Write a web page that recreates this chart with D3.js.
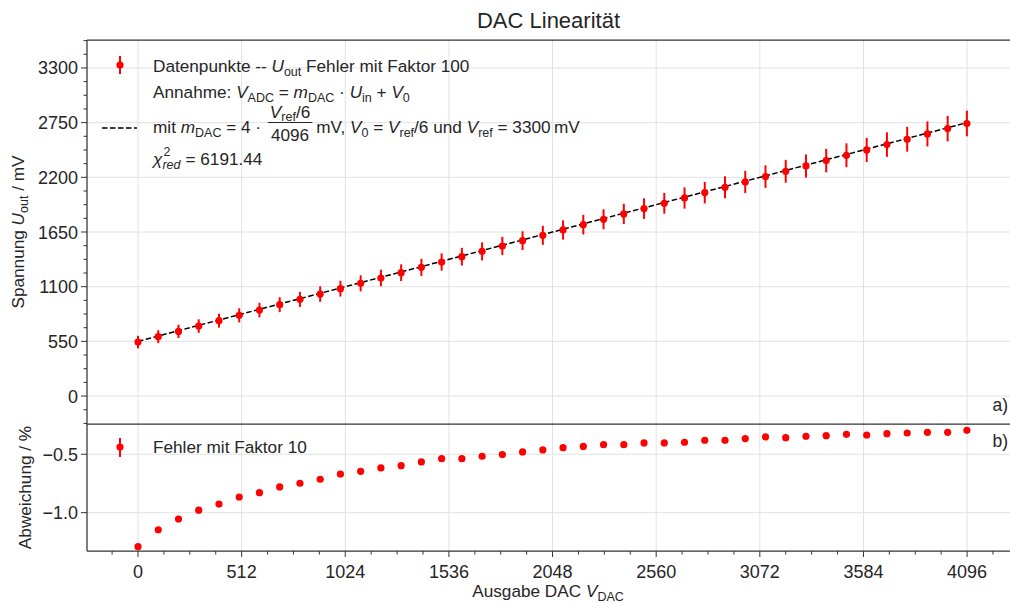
<!doctype html>
<html lang="de">
<head>
<meta charset="utf-8">
<title>DAC Linearität</title>
<style>
    body { margin: 0; background: #fff; }
    svg { display: block; }
    text { fill: #262626; white-space: pre; }
    .grid line { stroke: #e2e2e2; stroke-width: 1; }
    .spine { stroke: #333; stroke-width: 1.25; fill: none; }
    .tick { stroke: #333; stroke-width: 1; }
</style>
</head>
<body>
<svg id="chart" width="1010" height="603"></svg>

<script src="https://d3js.org/d3.v7.min.js"></script>
<script>

    // DAC input codes
    let dacCodes = [0, 100, 200, 300, 400, 500, 600, 700, 800, 900, 1000, 1100, 1200, 1300,
        1400, 1500, 1600, 1700, 1800, 1900, 2000, 2100, 2200, 2300, 2400, 2500, 2600, 2700,
        2800, 2900, 3000, 3100, 3200, 3300, 3400, 3500, 3600, 3700, 3800, 3900, 4000, 4095];

    // measured output voltage in mV
    let uOut = [542.9, 596.8, 650.5, 704.2, 757.8, 811.5, 865.0, 918.8, 972.4, 1026.0, 1079.8,
        1133.5, 1187.2, 1240.8, 1294.6, 1348.4, 1401.8, 1455.5, 1509.2, 1563.0, 1616.7, 1670.5,
        1724.1, 1777.9, 1831.4, 1885.1, 1938.6, 1992.3, 2046.1, 2099.6, 2153.4, 2207.2, 2260.6,
        2314.4, 2368.1, 2421.9, 2475.3, 2529.1, 2582.8, 2636.5, 2690.0, 2741.4];

    // uncertainty of U_out in mV (drawn with factor 100)
    let uErr = [0.63, 0.65, 0.67, 0.68, 0.70, 0.71, 0.73, 0.75, 0.76, 0.78, 0.79, 0.81, 0.83,
        0.84, 0.86, 0.87, 0.89, 0.91, 0.92, 0.94, 0.96, 0.97, 0.99, 1.00, 1.02, 1.04, 1.05,
        1.07, 1.08, 1.10, 1.12, 1.13, 1.15, 1.16, 1.18, 1.20, 1.21, 1.23, 1.25, 1.26, 1.28, 1.29];

    // deviation from the model in %
    let deviation = [-1.291, -1.146, -1.054, -0.979, -0.926, -0.866, -0.829, -0.780, -0.748,
        -0.714, -0.669, -0.646, -0.617, -0.598, -0.566, -0.538, -0.538, -0.517, -0.503, -0.480,
        -0.463, -0.444, -0.433, -0.418, -0.418, -0.403, -0.403, -0.397, -0.380, -0.380, -0.366,
        -0.352, -0.358, -0.346, -0.341, -0.329, -0.335, -0.324, -0.318, -0.312, -0.312, -0.295];

    let xTicks = [0, 512, 1024, 1536, 2048, 2560, 3072, 3584, 4096];
    let yTicksTop = [0, 550, 1100, 1650, 2200, 2750, 3300];
    let yTicksBottom = [-1.0, -0.5];

    // model: V = m_DAC * x + V0
    let vRef = 3300;
    let v0 = vRef / 6;
    let mDac = 4 * (vRef / 6) / 4096;

    let txtFont = "'Liberation Sans', Arial, sans-serif";
    let mathFont = "'Liberation Sans', Arial, sans-serif";
    let red = "#ff0000";

    let svg = d3.select("#chart");

    let left = 87, right = 1010;
    let topA = 40, midA = 424, botB = 551;

    let x = d3.scaleLinear().domain([-252, 4308]).range([left, right]);
    let yTop = d3.scaleLinear().domain([-281, 3581]).range([midA, topA]);
    let yBot = d3.scaleLinear().domain([-1.328, -0.241]).range([botB, midA]);

    // grids
    let grid = svg.append("g").attr("class", "grid");
    grid.selectAll("line.vx").data(xTicks).enter().append("line")
        .attr("x1", d => x(d)).attr("x2", d => x(d))
        .attr("y1", topA).attr("y2", botB);
    grid.selectAll("line.ht").data(yTicksTop).enter().append("line")
        .attr("x1", left).attr("x2", right)
        .attr("y1", d => yTop(d)).attr("y2", d => yTop(d));
    grid.selectAll("line.hb").data(yTicksBottom).enter().append("line")
        .attr("x1", left).attr("x2", right)
        .attr("y1", d => yBot(d)).attr("y2", d => yBot(d));

    // ticks
    function minorTicks(scale, step, majors) {
        let dom = scale.domain();
        let lo = Math.min(dom[0], dom[1]), hi = Math.max(dom[0], dom[1]);
        let out = [];
        for (let v = Math.ceil(lo / step) * step; v <= hi; v += step) {
            if (!majors.some(m => Math.abs(m - v) < 1e-6)) out.push(v);
        }
        return out;
    }

    let ticks = svg.append("g");
    ticks.selectAll("line.xmaj").data(xTicks).enter().append("line").attr("class", "tick")
        .attr("x1", d => x(d)).attr("x2", d => x(d)).attr("y1", botB).attr("y2", botB + 6);
    ticks.selectAll("line.xmin").data(minorTicks(x, 128, xTicks)).enter().append("line").attr("class", "tick")
        .attr("x1", d => x(d)).attr("x2", d => x(d)).attr("y1", botB).attr("y2", botB + 3.5);
    ticks.selectAll("line.ytmaj").data(yTicksTop).enter().append("line").attr("class", "tick")
        .attr("x1", left - 6).attr("x2", left).attr("y1", d => yTop(d)).attr("y2", d => yTop(d));
    ticks.selectAll("line.ytmin").data(minorTicks(yTop, 137.5, yTicksTop)).enter().append("line").attr("class", "tick")
        .attr("x1", left - 3.5).attr("x2", left).attr("y1", d => yTop(d)).attr("y2", d => yTop(d));
    ticks.selectAll("line.ybmaj").data(yTicksBottom).enter().append("line").attr("class", "tick")
        .attr("x1", left - 6).attr("x2", left).attr("y1", d => yBot(d)).attr("y2", d => yBot(d));

    // tick labels
    let lbl = svg.append("g").style("font-family", txtFont).style("font-size", "18px");
    lbl.selectAll("text.x").data(xTicks).enter().append("text")
        .attr("x", d => x(d)).attr("y", botB + 27).attr("text-anchor", "middle")
        .text(d => d);
    lbl.selectAll("text.yt").data(yTicksTop).enter().append("text")
        .attr("x", left - 9).attr("y", d => yTop(d) + 6.5).attr("text-anchor", "end")
        .text(d => d);
    lbl.selectAll("text.yb").data(yTicksBottom).enter().append("text")
        .attr("x", left - 9).attr("y", d => yBot(d) + 6.5).attr("text-anchor", "end")
        .text(d => d3.format(".1f")(d).replace("-", "\u2212"));

    // fit line
    svg.append("line")
        .attr("x1", x(0)).attr("y1", yTop(v0))
        .attr("x2", x(4095)).attr("y2", yTop(v0 + mDac * 4095))
        .attr("stroke", "#000").attr("stroke-width", 1.5).attr("stroke-dasharray", "5.5,2.5");

    // data with error bars (factor 100)
    let pts = dacCodes.map((c, i) => ({c: c, u: uOut[i], e: uErr[i], d: deviation[i]}));
    svg.append("g").selectAll("line").data(pts).enter().append("line")
        .attr("x1", d => x(d.c)).attr("x2", d => x(d.c))
        .attr("y1", d => yTop(d.u - 100 * d.e)).attr("y2", d => yTop(d.u + 100 * d.e))
        .attr("stroke", red).attr("stroke-width", 2);
    svg.append("g").selectAll("circle").data(pts).enter().append("circle")
        .attr("cx", d => x(d.c)).attr("cy", d => yTop(d.u)).attr("r", 3.6).attr("fill", red);

    svg.append("g").selectAll("circle").data(pts).enter().append("circle")
        .attr("cx", d => x(d.c)).attr("cy", d => yBot(d.d)).attr("r", 3.6).attr("fill", red);

    // spines
    svg.append("line").attr("class", "spine").attr("x1", left).attr("x2", right).attr("y1", topA).attr("y2", topA);
    svg.append("line").attr("class", "spine").attr("x1", left).attr("x2", right).attr("y1", midA).attr("y2", midA);
    svg.append("line").attr("class", "spine").attr("x1", left).attr("x2", right).attr("y1", botB).attr("y2", botB);
    svg.append("line").attr("class", "spine").attr("x1", left).attr("x2", left).attr("y1", topA).attr("y2", botB);

    // text with math pieces
    let fs = 17.2;
    function mathText(g, x0, y0, runs) {
        let t = g.append("text").attr("x", x0).attr("y", y0).style("font-size", fs + "px")
            .style("font-family", txtFont);
        let shift = 0;
        runs.forEach(r => {
            let s = r.s || 0;
            let ts = t.append("tspan").text(r.t).attr("dy", s - shift);
            shift = s;
            if (r.m) ts.style("font-family", mathFont);
            if (r.i) ts.style("font-style", "italic");
            if (r.z) ts.style("font-size", r.z + "px");
        });
        if (shift) t.append("tspan").text("").attr("dy", -shift);
        return t;
    }
    function textWidth(t) { return t.node().getComputedTextLength(); }

    let sub = {m: true, z: 12.5, s: 4};
    let leg = svg.append("g");
    let tx = 153;

    // legend symbols
    leg.append("line").attr("x1", 120).attr("x2", 120).attr("y1", 56).attr("y2", 74)
        .attr("stroke", red).attr("stroke-width", 2);
    leg.append("circle").attr("cx", 120).attr("cy", 65).attr("r", 3.6).attr("fill", red);
    leg.append("line").attr("x1", 102).attr("x2", 137).attr("y1", 128).attr("y2", 128)
        .attr("stroke", "#000").attr("stroke-width", 1.5).attr("stroke-dasharray", "5.5,2.5");

    mathText(leg, tx, 72, [
        {t: "Datenpunkte -- "}, {t: "U", m: true, i: true}, Object.assign({t: "out"}, sub),
        {t: " Fehler mit Faktor 100"}]);
    mathText(leg, tx, 98, [
        {t: "Annahme: "}, {t: "V", m: true, i: true}, Object.assign({t: "ADC"}, sub),
        {t: " = ", m: true}, {t: "m", m: true, i: true}, Object.assign({t: "DAC"}, sub),
        {t: " \u00b7 ", m: true}, {t: "U", m: true, i: true}, Object.assign({t: "in"}, sub),
        {t: " + ", m: true}, {t: "V", m: true, i: true}, Object.assign({t: "0"}, sub)]);

    let l3a = mathText(leg, tx, 133, [
        {t: "mit "}, {t: "m", m: true, i: true}, Object.assign({t: "DAC"}, sub),
        {t: " = 4 \u00b7 ", m: true}]);
    let fx = tx + textWidth(l3a) + 2;
    let num = mathText(leg, 0, 117.5, [
        {t: "V", m: true, i: true}, Object.assign({t: "ref"}, {m: true, z: 12.5, s: 3}), {t: "/6", m: true}]);
    let den = mathText(leg, 0, 141, [{t: "4096", m: true}]);
    let fw = Math.max(textWidth(num), textWidth(den)) + 4;
    num.attr("x", fx + (fw - textWidth(num)) / 2);
    den.attr("x", fx + (fw - textWidth(den)) / 2);
    leg.append("line").attr("x1", fx).attr("x2", fx + fw).attr("y1", 122.5).attr("y2", 122.5)
        .attr("stroke", "#262626").attr("stroke-width", 1);
    mathText(leg, fx + fw + 4, 133, [
        {t: "mV, ", m: true}, {t: "V", m: true, i: true}, Object.assign({t: "0"}, sub),
        {t: " = ", m: true}, {t: "V", m: true, i: true}, Object.assign({t: "ref"}, sub),
        {t: "/6", m: true}, {t: " und "}, {t: "V", m: true, i: true}, Object.assign({t: "ref"}, sub),
        {t: " = 3300\u2009mV", m: true}]);

    let chi = mathText(leg, tx, 165, [{t: "\u03c7", m: true, i: true}]);
    let cw = textWidth(chi);
    mathText(leg, tx + cw + 1, 156, [{t: "2", m: true, z: 12.5}]);
    let red2 = mathText(leg, tx + cw, 169, [{t: "red", m: true, i: true, z: 12.5}]);
    mathText(leg, tx + cw + textWidth(red2) + 5, 165, [{t: "= 6191.44"}]);

    // bottom legend
    leg.append("line").attr("x1", 120).attr("x2", 120).attr("y1", 438).attr("y2", 457)
        .attr("stroke", red).attr("stroke-width", 2);
    leg.append("circle").attr("cx", 120).attr("cy", 447).attr("r", 3.6).attr("fill", red);
    mathText(leg, tx, 453, [{t: "Fehler mit Faktor 10"}]);

    // panel marks
    svg.append("text").attr("x", 1008).attr("y", 411).attr("text-anchor", "end")
        .style("font-family", txtFont).style("font-size", "17.5px").text("a)");
    svg.append("text").attr("x", 1008).attr("y", 447).attr("text-anchor", "end")
        .style("font-family", txtFont).style("font-size", "17.5px").text("b)");

    // title and axis labels
    svg.append("text").attr("x", (left + right) / 2).attr("y", 28).attr("text-anchor", "middle")
        .style("font-family", txtFont).style("font-size", "22px").text("DAC Linearität");

    let xl = mathText(svg, 0, 597, [{t: "Ausgabe DAC "}, {t: "V", m: true, i: true},
        Object.assign({t: "DAC"}, sub)]);
    xl.attr("x", 548 - textWidth(xl) / 2);

    let yl = mathText(svg, 0, 0, [{t: "Spannung "}, {t: "U", m: true, i: true},
        Object.assign({t: "out"}, sub), {t: " / mV"}]);
    yl.attr("transform", "translate(24," + ((topA + midA) / 2 + textWidth(yl) / 2) + ") rotate(-90)");

    let yl2 = mathText(svg, 0, 0, [{t: "Abweichung / %"}]);
    yl2.attr("transform", "translate(31," + ((midA + botB) / 2 + textWidth(yl2) / 2) + ") rotate(-90)");

</script>
</body>
</html>
